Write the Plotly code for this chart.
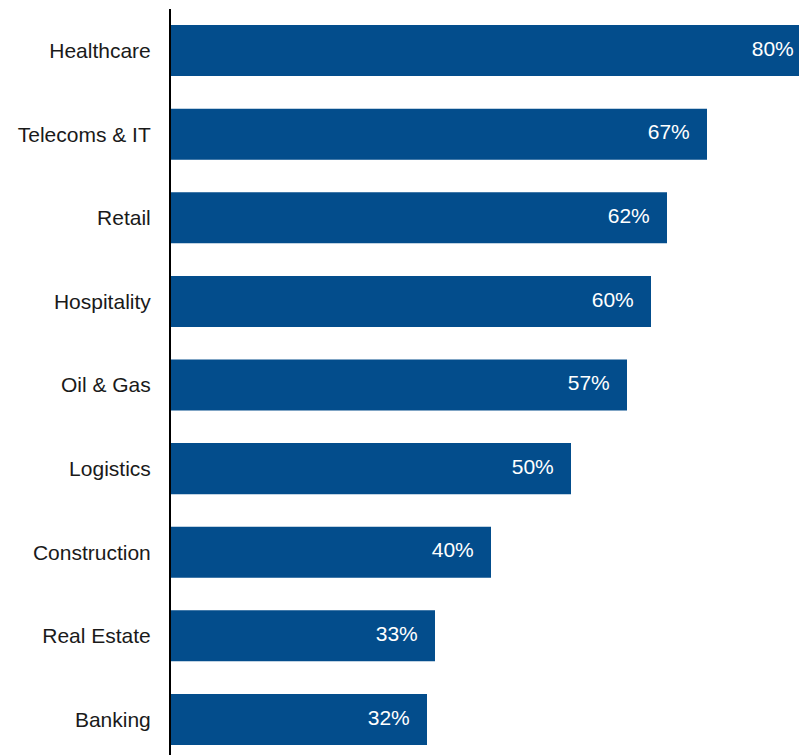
import plotly.graph_objects as go

# Share of organisations by sector (%)
sectors = ["Healthcare", "Telecoms & IT", "Retail", "Hospitality", "Oil & Gas",
           "Logistics", "Construction", "Real Estate", "Banking"]
shares = [80, 67, 62, 60, 57, 50, 40, 33, 32]
value_labels = [f"{v}%" for v in shares]

BAR_BLUE = "#034d8c"
FONT = "Liberation Sans, Arial, Helvetica, sans-serif"

fig = go.Figure()

fig.add_trace(
    go.Bar(
        x=shares,
        y=sectors,
        orientation="h",
        marker=dict(color=BAR_BLUE, line=dict(width=0)),
        cliponaxis=True,
        hoverinfo="skip",
    )
)

# Value labels sit just inside the end of each bar; the invisible marker
# sets the gap between the bar end and the text.
fig.add_trace(
    go.Scatter(
        x=shares,
        y=sectors,
        mode="markers+text",
        text=value_labels,
        textposition="middle left",
        textfont=dict(color="white", size=21, family=FONT),
        marker=dict(size=26, opacity=0, color=BAR_BLUE),
        cliponaxis=True,
        hoverinfo="skip",
    )
)

fig.update_layout(
    width=799,
    height=755,
    margin=dict(l=171, r=0, t=9, b=0),
    paper_bgcolor="white",
    plot_bgcolor="white",
    bargap=0.39,
    showlegend=False,
    font=dict(family=FONT, size=21, color="#1a1a1a"),
)

fig.update_xaxes(
    range=[0, 78.5],
    visible=False,
    showgrid=False,
    zeroline=False,
)

fig.update_yaxes(
    type="category",
    categoryorder="array",
    categoryarray=sectors,
    range=[8.425, -0.497],
    showgrid=False,
    zeroline=False,
    showline=True,
    linecolor="black",
    linewidth=2,
    ticks="",
    ticklabelstandoff=14,
    tickfont=dict(family=FONT, size=21, color="#1a1a1a"),
)

fig.write_html("out.html")
